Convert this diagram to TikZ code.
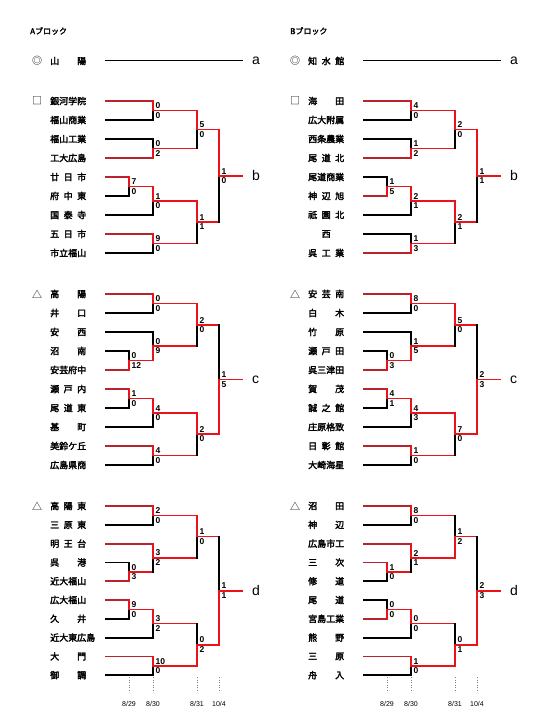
\documentclass[tikz,border=0pt]{standalone}
\usepackage{fontspec}
\setsansfont{Liberation Sans}
\newfontfamily\jp{Noto Sans CJK JP}[AutoFakeBold=2.5]
\usetikzlibrary{calc}
\definecolor{wred}{RGB}{236,18,26}
\definecolor{wdark}{RGB}{184,36,46}
\tikzset{
    line/.style =       {line width=1.8pt,
                        line cap=rect},
    lose/.style =       {line,
                        draw=black},
    win/.style =        {line,
                        draw=wred},
    wint/.style =       {line,
                        draw=wdark},
    teamname/.style =   {anchor=west,
                        inner sep=0pt,
                        font=\jp\bfseries\fontsize{9}{10}\selectfont},
    seedmark/.style =   {inner sep=0pt,
                        font=\jp\fontsize{10}{10}\selectfont},
    score/.style =      {inner sep=0pt,
                        font=\sffamily\bfseries\fontsize{8.5}{8.5}\selectfont},
    tagname/.style =    {anchor=west,
                        inner sep=0pt,
                        xshift=10pt,
                        font=\sffamily\fontsize{14}{14}\selectfont},
    head/.style =       {anchor=west,
                        inner sep=0pt,
                        font=\jp\bfseries\fontsize{8}{8}\selectfont},
    datetick/.style =   {dotted,
                        draw=gray,
                        line width=0.5pt},
    datename/.style =   {inner sep=0pt,
                        font=\sffamily\fontsize{7}{7}\selectfont}}

% team row: key, y, name, x where the line ends, line style
\newcommand\team[5]{%
    \node[teamname] (#1n) at (50,#2) {\makebox[36pt][s]{#3}};
    \coordinate (#1) at (#4,#2);
    \draw[#5] (106,#2) -- (#1);}

% match: key, upper, lower, x of next round, upper score, lower score, winner (t/b)
\newcommand\match[7]{%
    \coordinate (#1m) at ($(#2)!.5!(#3)$);
    \coordinate (#1x) at (#4,0);
    \coordinate (#1) at (#1m -| #1x);
    \if t#7
        \draw[lose] (#1m) -- (#3);
        \draw[win] (#2) -- (#1m);
    \else
        \draw[lose] (#2) -- (#1m);
        \draw[win] (#1m) -- (#3);
    \fi
    \draw[win] (#1m) -- (#1);
    \node[score,anchor=south west,xshift=2.5pt,yshift=1.5pt] (#1s) at (#1m) {#5};
    \node[score,anchor=north west,xshift=2.5pt,yshift=-1.5pt] (#1t) at (#1m) {#6};}

\begin{document}
\begin{tikzpicture}[x=1pt,y=-1pt]
    \useasboundingbox (0,0) rectangle (540,720);
    \fill[white] (0,0) rectangle (540,720);

    % A block
    \begin{scope}
        \node[head] (Ahead) at (30,31) {Aブロック};
        % a
        \node[seedmark] (Aam) at (37,61) {◎};
        \node[teamname] (Aan) at (50,61) {\makebox[36pt][s]{山\hfill 陽}};
        \coordinate (Aa) at (106,60.5);
        \coordinate (Aae) at (242,60.5);
        \draw[lose] (Aa) -- (Aae);
        \node[tagname] (Aat) at (Aae) {a};
        % b
        \node[seedmark] (Abm) at (37,101) {□};
        \foreach \nm/\xe/\ls [count=\i from 0] in {
            銀河学院/153/wint, 福山商業/153/lose, 福山工業/153/lose, 工大広島/153/wint,
            廿\hfill 日\hfill 市/129/wint, 府\hfill 中\hfill 東/129/lose,
            国\hfill 泰\hfill 寺/153/lose, 五\hfill 日\hfill 市/153/wint, 市立福山/153/lose}
            {\team{Ab\i}{101+19*\i}{\nm}{\xe}{\ls}}
        \match{Ab01}{Ab0}{Ab1}{197}{0}{0}{t}
        \match{Ab23}{Ab2}{Ab3}{197}{0}{2}{b}
        \match{Ab45}{Ab4}{Ab5}{153}{7}{0}{t}
        \match{Ab46}{Ab45}{Ab6}{197}{1}{0}{t}
        \match{Ab78}{Ab7}{Ab8}{197}{9}{0}{t}
        \match{Ab03}{Ab01}{Ab23}{219}{5}{0}{t}
        \match{Ab48}{Ab46}{Ab78}{219}{1}{1}{t}
        \match{Abf}{Ab03}{Ab48}{242}{1}{0}{t}
        \node[tagname] (Abt) at (Abf) {b};
        % c
        \node[seedmark] (Acm) at (37,294) {△};
        \foreach \nm/\xe/\ls [count=\i from 0] in {
            高\hfill 陽/153/wint, 井\hfill 口/153/lose, 安\hfill 西/153/lose,
            沼\hfill 南/129/lose, 安芸府中/129/wint, 瀬\hfill 戸\hfill 内/129/wint,
            尾\hfill 道\hfill 東/129/lose, 基\hfill 町/153/lose, 美鈴ケ丘/153/wint, 広島県商/153/lose}
            {\team{Ac\i}{294+19*\i}{\nm}{\xe}{\ls}}
        \match{Ac01}{Ac0}{Ac1}{197}{0}{0}{t}
        \match{Ac34}{Ac3}{Ac4}{153}{0}{12}{b}
        \match{Ac24}{Ac2}{Ac34}{197}{0}{9}{b}
        \match{Ac04}{Ac01}{Ac24}{219}{2}{0}{t}
        \match{Ac56}{Ac5}{Ac6}{153}{1}{0}{t}
        \match{Ac57}{Ac56}{Ac7}{197}{4}{0}{t}
        \match{Ac89}{Ac8}{Ac9}{197}{4}{0}{t}
        \match{Ac59}{Ac57}{Ac89}{219}{2}{0}{t}
        \match{Acf}{Ac04}{Ac59}{242}{1}{5}{b}
        \node[tagname] (Act) at (Acf) {c};
        % d
        \node[seedmark] (Adm) at (37,506) {△};
        \foreach \nm/\xe/\ls [count=\i from 0] in {
            高\hfill 陽\hfill 東/153/wint, 三\hfill 原\hfill 東/153/lose, 明\hfill 王\hfill 台/153/wint,
            呉\hfill 港/129/lose, 近大福山/129/wint, 広大福山/129/wint, 久\hfill 井/129/lose,
            近大東広島/153/lose, 大\hfill 門/153/wint, 御\hfill 調/153/lose}
            {\team{Ad\i}{506+18.8*\i}{\nm}{\xe}{\ls}}
        \match{Ad01}{Ad0}{Ad1}{197}{2}{0}{t}
        \match{Ad34}{Ad3}{Ad4}{153}{0}{3}{b}
        \match{Ad24}{Ad2}{Ad34}{197}{3}{2}{t}
        \match{Ad04}{Ad01}{Ad24}{219}{1}{0}{t}
        \match{Ad56}{Ad5}{Ad6}{153}{9}{0}{t}
        \match{Ad57}{Ad56}{Ad7}{197}{3}{2}{t}
        \match{Ad89}{Ad8}{Ad9}{197}{10}{0}{t}
        \match{Ad59}{Ad57}{Ad89}{219}{0}{2}{b}
        \match{Adf}{Ad04}{Ad59}{242}{1}{1}{b}
        \node[tagname] (Adt) at (Adf) {d};
        % dates
        \foreach \x/\d in {129/{8/29}, 153/{8/30}, 197/{8/31}, 219/{10/4}} {
            \draw[datetick] (\x,677) -- (\x,692);
            \node[datename] (Adate\x) at (\x,704) {\d};}
    \end{scope}

    % B block
    \begin{scope}[xshift=258pt]
        \node[head] (Bhead) at (32,31) {Bブロック};
        % a
        \node[seedmark] (Bam) at (37,61) {◎};
        \node[teamname] (Ban) at (50,61) {\makebox[36pt][s]{知\hfill 水\hfill 館}};
        \coordinate (Ba) at (106,60.5);
        \coordinate (Bae) at (242,60.5);
        \draw[lose] (Ba) -- (Bae);
        \node[tagname] (Bat) at (Bae) {a};
        % b
        \node[seedmark] (Bbm) at (37,101) {□};
        \foreach \nm/\xe/\ls [count=\i from 0] in {
            海\hfill 田/153/wint, 広大附属/153/lose, 西条農業/153/lose, 尾\hfill 道\hfill 北/153/wint,
            尾道商業/129/lose, 神\hfill 辺\hfill 旭/129/wint, 祇\hfill 園\hfill 北/153/lose,
            \hfil 西\hfil/153/lose, 呉\hfill 工\hfill 業/153/wint}
            {\team{Bb\i}{101+19*\i}{\nm}{\xe}{\ls}}
        \match{Bb01}{Bb0}{Bb1}{197}{4}{0}{t}
        \match{Bb23}{Bb2}{Bb3}{197}{1}{2}{b}
        \match{Bb45}{Bb4}{Bb5}{153}{1}{5}{b}
        \match{Bb46}{Bb45}{Bb6}{197}{2}{1}{t}
        \match{Bb78}{Bb7}{Bb8}{197}{1}{3}{b}
        \match{Bb03}{Bb01}{Bb23}{219}{2}{0}{t}
        \match{Bb48}{Bb46}{Bb78}{219}{2}{1}{t}
        \match{Bbf}{Bb03}{Bb48}{242}{1}{1}{t}
        \node[tagname] (Bbt) at (Bbf) {b};
        % c
        \node[seedmark] (Bcm) at (37,294) {△};
        \foreach \nm/\xe/\ls [count=\i from 0] in {
            安\hfill 芸\hfill 南/153/wint, 白\hfill 木/153/lose, 竹\hfill 原/153/lose,
            瀬\hfill 戸\hfill 田/129/lose, 呉三津田/129/wint, 賀\hfill 茂/129/wint,
            誠\hfill 之\hfill 館/129/lose, 庄原格致/153/lose, 日\hfill 彰\hfill 館/153/wint, 大崎海星/153/lose}
            {\team{Bc\i}{294+19*\i}{\nm}{\xe}{\ls}}
        \match{Bc01}{Bc0}{Bc1}{197}{8}{0}{t}
        \match{Bc34}{Bc3}{Bc4}{153}{0}{3}{b}
        \match{Bc24}{Bc2}{Bc34}{197}{1}{5}{b}
        \match{Bc04}{Bc01}{Bc24}{219}{5}{0}{t}
        \match{Bc56}{Bc5}{Bc6}{153}{4}{1}{t}
        \match{Bc57}{Bc56}{Bc7}{197}{4}{3}{t}
        \match{Bc89}{Bc8}{Bc9}{197}{1}{0}{t}
        \match{Bc59}{Bc57}{Bc89}{219}{7}{0}{t}
        \match{Bcf}{Bc04}{Bc59}{242}{2}{3}{b}
        \node[tagname] (Bct) at (Bcf) {c};
        % d
        \node[seedmark] (Bdm) at (37,506) {△};
        \foreach \nm/\xe/\ls [count=\i from 0] in {
            沼\hfill 田/153/wint, 神\hfill 辺/153/lose, 広島市工/153/wint,
            三\hfill 次/129/wint, 修\hfill 道/129/lose, 尾\hfill 道/129/lose, 宮島工業/129/wint,
            熊\hfill 野/153/lose, 三\hfill 原/153/wint, 舟\hfill 入/153/lose}
            {\team{Bd\i}{506+18.8*\i}{\nm}{\xe}{\ls}}
        \match{Bd01}{Bd0}{Bd1}{197}{8}{0}{t}
        \match{Bd34}{Bd3}{Bd4}{153}{1}{0}{t}
        \match{Bd24}{Bd2}{Bd34}{197}{2}{1}{t}
        \match{Bd04}{Bd01}{Bd24}{219}{1}{2}{b}
        \match{Bd56}{Bd5}{Bd6}{153}{0}{0}{b}
        \match{Bd57}{Bd56}{Bd7}{197}{0}{0}{t}
        \match{Bd89}{Bd8}{Bd9}{197}{1}{0}{t}
        \match{Bd59}{Bd57}{Bd89}{219}{0}{1}{b}
        \match{Bdf}{Bd04}{Bd59}{242}{2}{3}{b}
        \node[tagname] (Bdt) at (Bdf) {d};
        % dates
        \foreach \x/\d in {129/{8/29}, 153/{8/30}, 197/{8/31}, 219/{10/4}} {
            \draw[datetick] (\x,677) -- (\x,692);
            \node[datename] (Bdate\x) at (\x,704) {\d};}
    \end{scope}
\end{tikzpicture}
\end{document}
